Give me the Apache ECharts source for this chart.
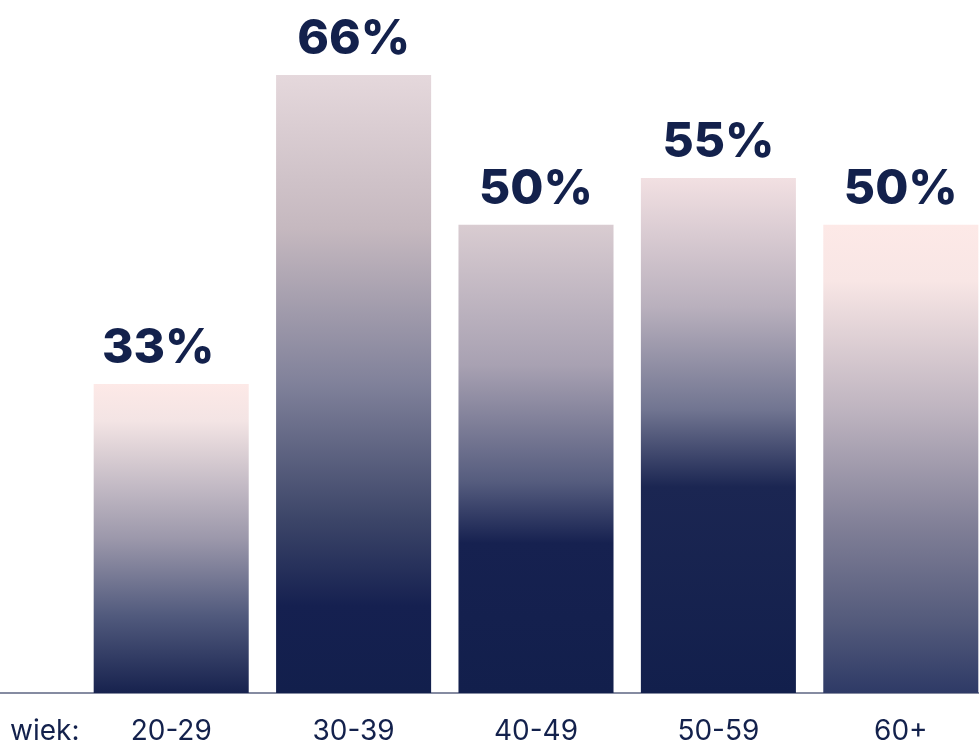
<!DOCTYPE html>
<html>
<head>
<meta charset="utf-8">
<script src="https://cdn.jsdelivr.net/npm/echarts@6/dist/echarts.min.js"></script>
<style>
  html, body { margin: 0; padding: 0; background: #fff; }
  #main { width: 979px; height: 753px; }
</style>
</head>
<body>
<div id="main"></div>
<script>
var categories = ['20-29', '30-39', '40-49', '50-59', '60+'];
var shares = [33, 66, 50, 55, 50];
var axisPrefix = 'wiek:';

// gradient stops per bar, top -> bottom
var barShades = [
  [[0, '#fde9e7'], [0.12, '#f3e4e4'], [0.5, '#9c98ab'], [0.75, '#515a7d'], [1, '#17224e']],
  [[0, '#e5d8dc'], [0.25, '#c5b8bf'], [0.5, '#80819a'], [0.72, '#3c4568'], [0.86, '#152050'], [1, '#121f4c']],
  [[0, '#d9ccd1'], [0.3, '#a8a1b2'], [0.55, '#555c7e'], [0.68, '#162150'], [1, '#121f4c']],
  [[0, '#f2e0e2'], [0.25, '#b9b0bd'], [0.45, '#717591'], [0.6, '#1b2652'], [1, '#121f4c']],
  [[0, '#fde9e7'], [0.12, '#f8e6e5'], [0.4, '#bdb3bf'], [0.65, '#7f7e96'], [0.85, '#535a7b'], [1, '#2e3a66']]
];
// first label sits a bit left of its bar in the original
var labelShift = [-13, 0, 0, 0, 0];

var navy = '#13214c';

function shade(stops) {
  return new echarts.graphic.LinearGradient(0, 0, 0, 1, stops.map(function (s) {
    return { offset: s[0], color: s[1] };
  }));
}

var myChart = echarts.init(document.getElementById('main'));
myChart.setOption({
  animation: false,
  grid: {
    left: 80, top: 75, width: 912, height: 618,
    outerBoundsMode: 'none', containLabel: false
  },
  xAxis: {
    type: 'category',
    data: categories,
    axisLine: { show: false },
    axisTick: { show: false },
    axisLabel: {
      color: navy,
      fontFamily: 'Inter',
      fontSize: 28,
      margin: 25
    }
  },
  yAxis: {
    type: 'value',
    min: 0,
    max: 66,
    show: false
  },
  series: [{
    type: 'bar',
    barCategoryGap: '15%',
    clip: false,
    data: shares.map(function (v, i) {
      return {
        value: v,
        itemStyle: { color: shade(barShades[i]) },
        label: { offset: [labelShift[i], 0] }
      };
    }),
    label: {
      show: true,
      position: 'top',
      distance: 11,
      formatter: '{c}%',
      color: navy,
      fontFamily: 'Inter',
      fontWeight: 800,
      fontSize: 48
    }
  }],
  graphic: [
    {
      type: 'line',
      shape: { x1: 0, y1: 693, x2: 979, y2: 693 },
      style: { stroke: '#5c6482', lineWidth: 1.5 }
    },
    {
      type: 'text',
      left: 10,
      top: 718,
      style: { text: axisPrefix, fill: navy, font: '28px Inter' }
    }
  ]
});
</script>
</body>
</html>
